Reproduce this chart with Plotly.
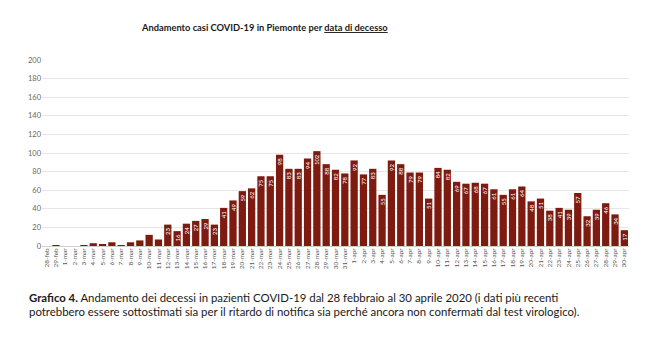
import plotly.graph_objects as go

dates = ["28-feb", "29-feb"] + [f"{d}-mar" for d in range(1, 32)] + [f"{d}-apr" for d in range(1, 31)]
deaths = [0, 1,
          0, 0, 1, 3, 2, 4, 1, 4, 6, 12, 7, 23, 16, 24, 27, 29, 23, 41, 49, 59,
          62, 75, 75, 98, 83, 83, 94, 102, 88, 82, 78,
          92, 77, 83, 55, 92, 88, 79, 79, 51, 84, 82, 69, 67, 68, 67, 61, 55, 61,
          64, 48, 51, 38, 41, 39, 57, 32, 39, 46, 34, 17]
y_ticks = list(range(0, 201, 20))

labels = [str(v) if v >= 15 else "" for v in deaths]

FONT = "Lato"
BAR = "#7E1B10"

# page body has an 8px offset; design in figure coordinates
W, H = 642, 354
L, T = 34, 52
PW, PH = 587, 186

fig = go.Figure(go.Bar(
    x=dates, y=deaths, text=labels,
    marker=dict(color=BAR, line=dict(width=0)),
    textposition="inside", insidetextanchor="end", textangle=-90,
    textfont=dict(color="white", size=6, family=FONT),
    cliponaxis=False,
))

fig.update_layout(
    width=W, height=H,
    margin=dict(l=L, r=W - L - PW, t=T, b=H - T - PH),
    paper_bgcolor="white", plot_bgcolor="white",
    bargap=0.22,
    showlegend=False,
    font=dict(family=FONT, color="#444"),
    uniformtext=dict(minsize=5, mode="show"),
)
fig.update_yaxes(range=[0, 200], tickvals=y_ticks, showgrid=True, gridcolor="#e6e6e6",
                 gridwidth=1, zeroline=True, zerolinecolor="#cfcfcf", zerolinewidth=1,
                 tickfont=dict(size=7.5, color="#666", family=FONT), ticks="", showline=False)
fig.update_xaxes(type="category", tickangle=-90, tickfont=dict(size=6.5, color="#555", family=FONT),
                 ticks="", showline=False, showgrid=False)

fig.add_annotation(xref="paper", yref="paper", x=(264 - 42) / PW, y=1 + (60 - 28) / PH,
                   text="<b>Andamento casi COVID-19 in Piemonte per <u>data di decesso</u></b>",
                   showarrow=False, xanchor="center", yanchor="middle",
                   font=dict(size=9.3, color="#1a1a1a", family=FONT))
fig.add_annotation(xref="paper", yref="paper", x=(27 - 42) / PW, y=-(297 - 246) / PH,
                   text="<b>Grafico 4.</b> Andamento dei decessi in pazienti COVID-19 dal 28 febbraio al 30 aprile 2020 (i dati più recenti",
                   showarrow=False, xanchor="left", yanchor="middle", align="left",
                   font=dict(size=11.4, color="#1a1a1a", family=FONT))
fig.add_annotation(xref="paper", yref="paper", x=(27 - 42) / PW, y=-(311 - 246) / PH,
                   text="potrebbero essere sottostimati sia per il ritardo di notifica sia perché ancora non confermati dal test virologico).",
                   showarrow=False, xanchor="left", yanchor="middle", align="left",
                   font=dict(size=11.4, color="#1a1a1a", family=FONT))

fig.write_html("out.html")
